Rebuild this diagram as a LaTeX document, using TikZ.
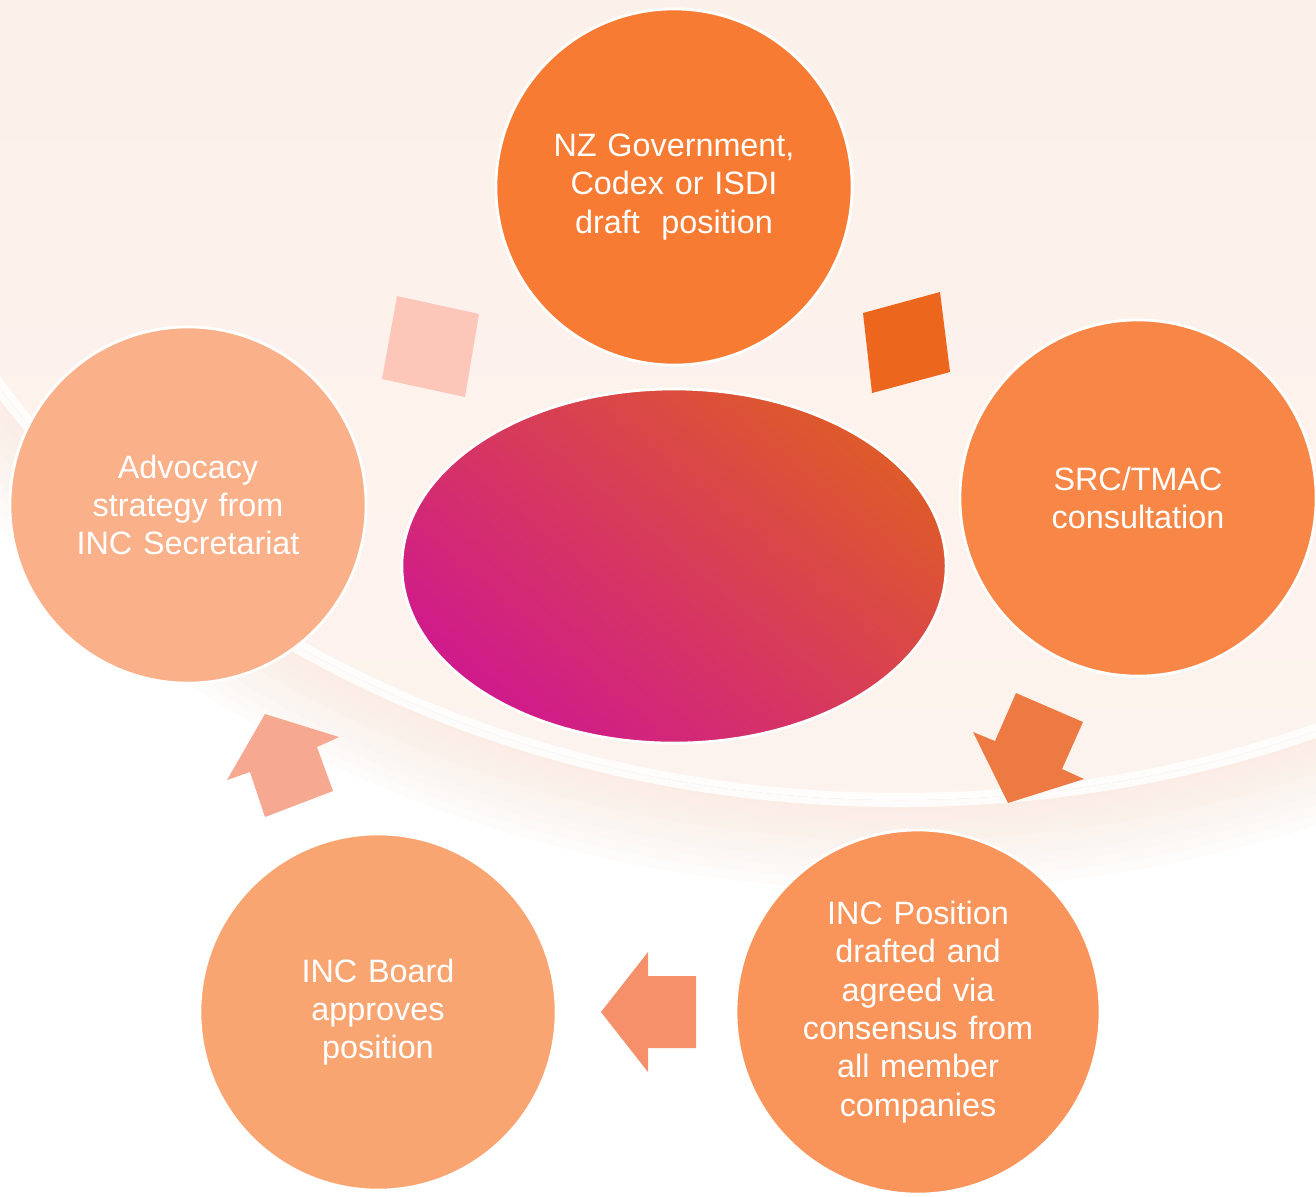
\documentclass[tikz,border=0pt]{standalone}
\usepackage{fontspec}
\setmainfont{Liberation Sans}
\usetikzlibrary{shapes.geometric}

\definecolor{nzorange}{RGB}{248,123,51}
\definecolor{srcorange}{RGB}{248,134,70}
\definecolor{posorange}{RGB}{249,149,91}
\definecolor{boardorange}{RGB}{249,165,114}
\definecolor{advorange}{RGB}{250,176,136}
\definecolor{hubmagenta}{RGB}{208,26,140}
\definecolor{hubred}{RGB}{222,90,42}
\definecolor{bgpeach}{RGB}{251,226,210}
\definecolor{bglight}{RGB}{253,243,238}
\definecolor{bgtop}{RGB}{251,237,229}

\begin{document}
\begin{tikzpicture}[x=0.01cm,y=-0.01cm,font=\fontsize{9.2}{10.9}\selectfont,
    stepcircle/.style={circle,draw=white,line width=0.8pt,minimum size=3.56cm,
        inner sep=0pt,text=white,align=center,text width=2.9cm},
    hub/.style={ellipse,draw=white,line width=0.8pt,minimum width=5.44cm,
        minimum height=3.54cm,inner sep=0pt}]
        \useasboundingbox (0,0) rectangle (1316,1196);

        % Background: soft peach glow, white swoosh
        \fill[white] (0,0) rectangle (1316,1196);
        \foreach \d in {0,10,...,90}
            \fill[bgpeach,opacity=0.08] (900,-50) ellipse ({1140-\d} and {940-\d});
        \fill[top color=bgtop,bottom color=bglight] (900,-50) ellipse (1050 and 850);
        \draw[white,line width=4pt,opacity=0.85] (900,-50) ellipse (1050 and 850);
        \fill[white,opacity=0.5] (0,1150) .. controls (400,1120) and (900,1120) .. (1316,1150)
            -- (1316,1196) -- (0,1196) -- cycle;

        % Centre ellipse
        \node[hub,top color=hubred,bottom color=hubmagenta,shading angle=-40] (core) at (674,566) {};

        % Steps of the cycle
        \node[stepcircle,fill=nzorange] (draft) at (674,187)
            {NZ Government,\\ Codex or ISDI\\ draft\ \ position};
        \node[stepcircle,fill=srcorange] (consult) at (1138,498)
            {SRC/TMAC\\ consultation};
        \node[stepcircle,fill=posorange] (agreed) at (918,1012)
            {INC Position\\ drafted and\\ agreed via\\ consensus from\\ all member\\ companies};
        \node[stepcircle,fill=boardorange] (board) at (378,1012)
            {INC Board\\ approves\\ position};
        \node[stepcircle,fill=advorange] (advocacy) at (188,505)
            {Advocacy\\ strategy from\\ INC Secretariat};

        % Links between steps
        \fill[color={rgb,255:red,252;green,198;blue,184}] (397,296) -- (479,314) -- (465,397) -- (382,379) -- cycle;
        \fill[color={rgb,255:red,236;green,102;blue,30}] (863,313) -- (940,292) -- (950,372) -- (872,393) -- cycle;
        \fill[color={rgb,255:red,238;green,122;blue,67}] (1016,693) -- (1083,722) -- (1062,769) -- (1084,779)
            -- (1008,803) -- (973,732) -- (995,741) -- cycle;
        \fill[color={rgb,255:red,245;green,144;blue,106}] (696,976) -- (696,1048) -- (648,1048) -- (648,1072)
            -- (601,1012) -- (648,952) -- (648,976) -- cycle;
        \fill[color={rgb,255:red,247;green,168;blue,144}] (265,714) -- (339,737) -- (317,747) -- (333,791)
            -- (265,817) -- (250,772) -- (227,780) -- cycle;
    \end{tikzpicture}
\end{document}
